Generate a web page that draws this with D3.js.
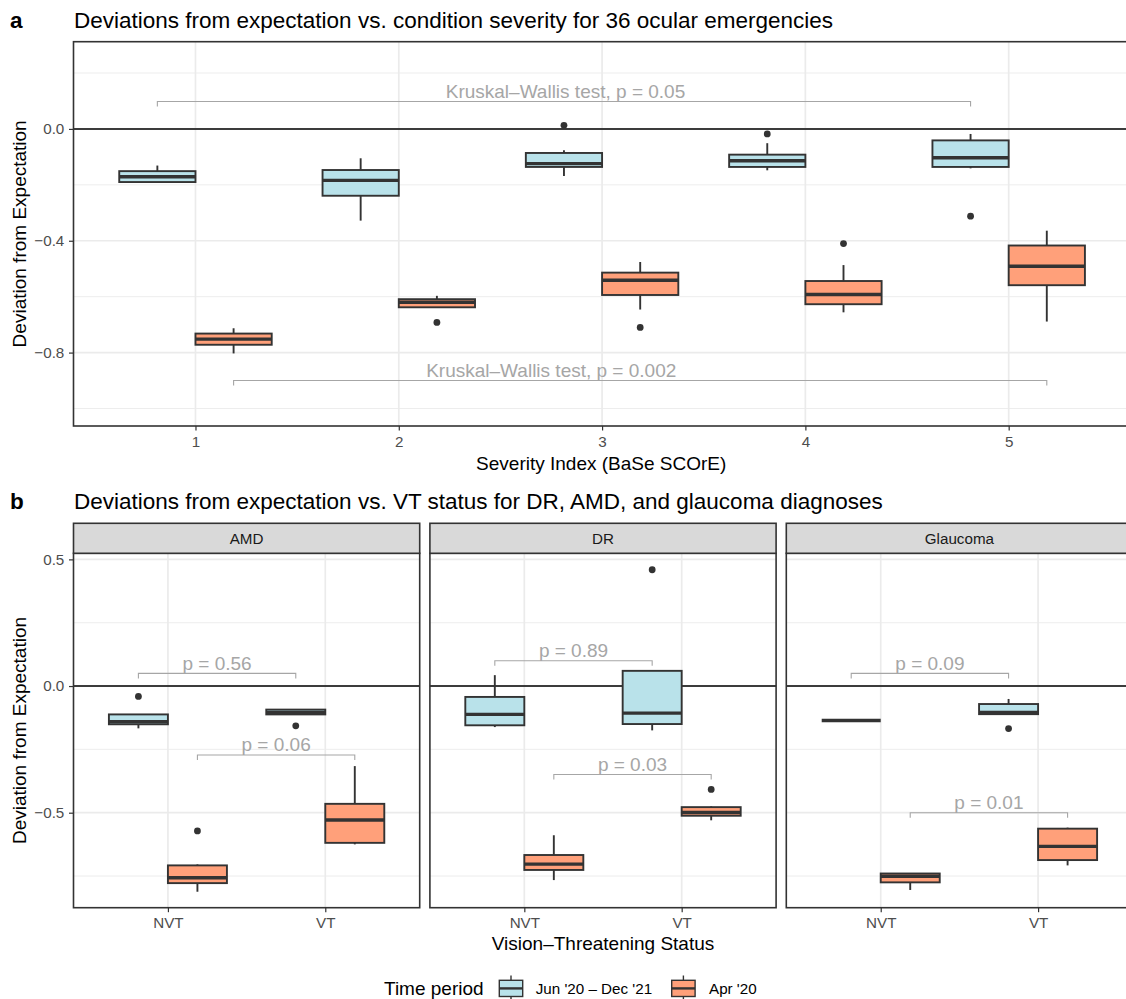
<!DOCTYPE html>
<html>
<head>
<meta charset="utf-8">
<script src="https://cdn.jsdelivr.net/npm/d3@7"></script>
<style>
  html, body { margin: 0; padding: 0; background: #fff; }
  svg { display: block; font-family: Helvetica, "Liberation Sans", Arial, sans-serif; }
</style>
</head>
<body>
<svg id="chart" width="1126" height="999"></svg>
<script>
// ---------------- DATA ----------------
const periods = ["Jun '20 \u2013 Dec '21", "Apr '20"];
const periodColors = ["#B9E2EA", "#FFA07A"];

// Panel a: severity index
const severityCats = [1, 2, 3, 4, 5];
// stats: [lower whisker, Q1, median, Q3, upper whisker]
const sevStatsRecent = [
  [-0.192, -0.190, -0.171, -0.151, -0.131],
  [-0.328, -0.239, -0.184, -0.147, -0.105],
  [-0.168, -0.136, -0.124, -0.086, -0.076],
  [-0.148, -0.136, -0.114, -0.092, -0.051],
  [-0.141, -0.136, -0.103, -0.041, -0.018]
];
const sevStatsApr = [
  [-0.803, -0.772, -0.752, -0.732, -0.713],
  [-0.640, -0.638, -0.620, -0.609, -0.597],
  [-0.646, -0.594, -0.541, -0.514, -0.476],
  [-0.656, -0.627, -0.592, -0.544, -0.487],
  [-0.689, -0.559, -0.491, -0.417, -0.364]
];
const sevOutliersRecent = [[], [], [0.013], [-0.018], [-0.312]];
const sevOutliersApr = [[], [-0.692], [-0.710], [-0.410], []];
const sevTestLabels = ["Kruskal\u2013Wallis test, p = 0.05", "Kruskal\u2013Wallis test, p = 0.002"];
const sevTestBracketY = [0.098, -0.900];
const sevTestLabelX = [2.82, 2.75];
const sevTicks = [0.0, -0.4, -0.8];
const sevTickLabels = ["0.0", "\u22120.4", "\u22120.8"];

// Panel b: VT status per diagnosis
const diagnoses = ["AMD", "DR", "Glaucoma"];
const vtCats = ["NVT", "VT"];
const vtStatsRecent = [
  [[-0.167, -0.151, -0.141, -0.112, -0.112], [-0.112, -0.112, -0.104, -0.093, -0.091]],
  [[-0.162, -0.155, -0.112, -0.043, 0.043], [-0.175, -0.150, -0.107, 0.060, 0.060]],
  [[-0.136, -0.136, -0.136, -0.136, -0.136], [-0.111, -0.111, -0.104, -0.071, -0.051]]
];
const vtStatsApr = [
  [[-0.812, -0.778, -0.757, -0.708, -0.704], [-0.625, -0.619, -0.529, -0.465, -0.316]],
  [[-0.766, -0.726, -0.703, -0.667, -0.589], [-0.530, -0.512, -0.499, -0.478, -0.475]],
  [[-0.805, -0.775, -0.751, -0.740, -0.740], [-0.708, -0.687, -0.633, -0.563, -0.559]]
];
const vtOutliersRecent = [[[-0.041], [-0.157]], [[], [0.459]], [[], [-0.168]]];
const vtOutliersApr = [[[-0.572], []], [[], [-0.408]], [[], []]];
const vtPvalRecent = ["p = 0.56", "p = 0.89", "p = 0.09"];
const vtPvalApr = ["p = 0.06", "p = 0.03", "p = 0.01"];
const vtBracketYRecent = [0.050, 0.100, 0.050];
const vtBracketYApr = [-0.272, -0.349, -0.500];
const vtTicks = [0.5, 0.0, -0.5];
const vtTickLabels = ["0.5", "0.0", "\u22120.5"];

// ---------------- STYLE ----------------
const boxStroke = "#333333";
const gridColor = "#EBEBEB";
const tickColor = "#4D4D4D";
const bracketColor = "#A6A6A6";
const dodge = 0.1875, boxHalf = 0.1875;
const FS_TITLE = 22.5, FS_AXIS = 19, FS_TICK = 15.2, FS_LABEL = 19;

const svg = d3.select("#chart");

function drawBox(g, x, y, cx, stats, outliers, fill) {
  const [lw, q1, med, q3, uw] = stats;
  const x0 = x(cx - boxHalf), x1 = x(cx + boxHalf), xm = x(cx);
  g.append("line").attr("x1", xm).attr("x2", xm).attr("y1", y(uw)).attr("y2", y(q3))
    .attr("stroke", boxStroke).attr("stroke-width", 1.9);
  g.append("line").attr("x1", xm).attr("x2", xm).attr("y1", y(q1)).attr("y2", y(lw))
    .attr("stroke", boxStroke).attr("stroke-width", 1.9);
  g.append("rect").attr("x", x0).attr("y", y(q3)).attr("width", x1 - x0)
    .attr("height", Math.max(0, y(q1) - y(q3)))
    .attr("fill", fill).attr("stroke", boxStroke).attr("stroke-width", 1.9);
  g.append("line").attr("x1", x0).attr("x2", x1).attr("y1", y(med)).attr("y2", y(med))
    .attr("stroke", boxStroke).attr("stroke-width", 3.4);
  outliers.forEach(v => {
    g.append("circle").attr("cx", xm).attr("cy", y(v)).attr("r", 3.4).attr("fill", boxStroke);
  });
}

function drawBracket(g, x, y, xa, xb, yv, label, labelX) {
  const tip = 5;
  const yy = y(yv);
  g.append("path")
    .attr("d", `M${x(xa)},${yy + tip}V${yy}H${x(xb)}V${yy + tip}`)
    .attr("fill", "none").attr("stroke", bracketColor).attr("stroke-width", 1.1);
  g.append("text").attr("x", x(labelX)).attr("y", yy - 3.5)
    .attr("text-anchor", "middle").attr("font-size", FS_LABEL).attr("fill", bracketColor)
    .text(label);
}

function drawGrid(g, x, y, xCats, yMajor, yMinor, left, right, top, bottom) {
  yMinor.forEach(v => g.append("line").attr("x1", left).attr("x2", right)
    .attr("y1", y(v)).attr("y2", y(v)).attr("stroke", gridColor).attr("stroke-width", 0.9));
  yMajor.forEach(v => g.append("line").attr("x1", left).attr("x2", right)
    .attr("y1", y(v)).attr("y2", y(v)).attr("stroke", gridColor).attr("stroke-width", 1.7));
  xCats.forEach(v => g.append("line").attr("x1", x(v)).attr("x2", x(v))
    .attr("y1", top).attr("y2", bottom).attr("stroke", gridColor).attr("stroke-width", 1.7));
}

function styleAxis(sel) {
  sel.select(".domain").remove();
  sel.selectAll(".tick line").attr("stroke", "#333333").attr("stroke-width", 1.2);
  sel.selectAll(".tick text").attr("fill", tickColor).attr("font-size", FS_TICK)
    .attr("font-family", "Helvetica, 'Liberation Sans', Arial, sans-serif");
}

// ---------------- PANEL A ----------------
{
  const L = 73.5, T = 41.7, B = 426, R = 73.5 + 5.2 * 203.3;
  const x = d3.scaleLinear().domain([0.4, 5.6]).range([L, R]);
  const y = d3.scaleLinear().domain([-1.0626, 0.312]).range([B, T]);
  const g = svg.append("g");

  svg.append("text").attr("x", 10).attr("y", 27.5).attr("font-size", FS_TITLE).attr("font-weight", "bold").text("a");
  svg.append("text").attr("x", 74).attr("y", 27.5).attr("font-size", FS_TITLE).attr("fill", "#000")
    .text("Deviations from expectation vs. condition severity for 36 ocular emergencies");

  drawGrid(g, x, y, severityCats, [0.0, -0.4, -0.8], [0.2, -0.2, -0.6, -1.0], L, R, T, B);

  g.append("line").attr("x1", L).attr("x2", R).attr("y1", y(0)).attr("y2", y(0))
    .attr("stroke", "#000").attr("stroke-width", 1.6);

  severityCats.forEach((c, i) => {
    drawBox(g, x, y, c - dodge, sevStatsRecent[i], sevOutliersRecent[i], periodColors[0]);
    drawBox(g, x, y, c + dodge, sevStatsApr[i], sevOutliersApr[i], periodColors[1]);
  });

  drawBracket(g, x, y, severityCats[0] - dodge, severityCats[4] - dodge, sevTestBracketY[0], sevTestLabels[0], sevTestLabelX[0]);
  drawBracket(g, x, y, severityCats[0] + dodge, severityCats[4] + dodge, sevTestBracketY[1], sevTestLabels[1], sevTestLabelX[1]);

  g.append("rect").attr("x", L).attr("y", T).attr("width", R - L).attr("height", B - T)
    .attr("fill", "none").attr("stroke", "#333333").attr("stroke-width", 1.6);

  const ay = g.append("g").attr("transform", `translate(${L},0)`)
    .call(d3.axisLeft(y).tickValues(sevTicks).tickSize(4.5).tickPadding(4.7)
      .tickFormat((d, i) => sevTickLabels[i]));
  styleAxis(ay);
  const ax = g.append("g").attr("transform", `translate(0,${B})`)
    .call(d3.axisBottom(x).tickValues(severityCats).tickSize(4.5).tickPadding(5.3).tickFormat(d3.format("d")));
  styleAxis(ax);

  svg.append("text").attr("x", (L + 1125) / 2 + 2).attr("y", 469.5).attr("text-anchor", "middle")
    .attr("font-size", FS_AXIS).text("Severity Index (BaSe SCOrE)");
  svg.append("text").attr("transform", `translate(25.7,${(T + B) / 2}) rotate(-90)`)
    .attr("text-anchor", "middle").attr("font-size", FS_AXIS).text("Deviation from Expectation");
}

// ---------------- PANEL B ----------------
{
  const T = 553.3, B = 907.7, stripT = 523.3;
  const panelW = 346.2, gap = 10.2, L0 = 73.5;
  const y = d3.scaleLinear().domain([-0.875, 0.524]).range([B, T]);

  svg.append("text").attr("x", 10).attr("y", 509).attr("font-size", FS_TITLE).attr("font-weight", "bold").text("b");
  svg.append("text").attr("x", 74).attr("y", 509).attr("font-size", FS_TITLE).attr("fill", "#000")
    .text("Deviations from expectation vs. VT status for DR, AMD, and glaucoma diagnoses");

  diagnoses.forEach((dName, f) => {
    const L = L0 + f * (panelW + gap), R = L + panelW;
    const x = d3.scaleLinear().domain([0.4, 2.6]).range([L, R]);
    const g = svg.append("g");

    drawGrid(g, x, y, [1, 2], [0.5, 0.0, -0.5], [0.25, -0.25, -0.75], L, R, T, B);
    g.append("line").attr("x1", L).attr("x2", R).attr("y1", y(0)).attr("y2", y(0))
      .attr("stroke", "#000").attr("stroke-width", 1.6);

    vtCats.forEach((c, i) => {
      drawBox(g, x, y, i + 1 - dodge, vtStatsRecent[f][i], vtOutliersRecent[f][i], periodColors[0]);
      drawBox(g, x, y, i + 1 + dodge, vtStatsApr[f][i], vtOutliersApr[f][i], periodColors[1]);
    });

    drawBracket(g, x, y, 1 - dodge, 2 - dodge, vtBracketYRecent[f], vtPvalRecent[f], 1.5 - dodge);
    drawBracket(g, x, y, 1 + dodge, 2 + dodge, vtBracketYApr[f], vtPvalApr[f], 1.5 + dodge);

    g.append("rect").attr("x", L).attr("y", T).attr("width", R - L).attr("height", B - T)
      .attr("fill", "none").attr("stroke", "#333333").attr("stroke-width", 1.6);
    g.append("rect").attr("x", L).attr("y", stripT).attr("width", R - L).attr("height", T - stripT)
      .attr("fill", "#D9D9D9").attr("stroke", "#333333").attr("stroke-width", 1.6);
    g.append("text").attr("x", (L + R) / 2).attr("y", (stripT + T) / 2 + 6)
      .attr("text-anchor", "middle").attr("font-size", FS_TICK).attr("fill", "#1A1A1A").text(dName);

    const ax = g.append("g").attr("transform", `translate(0,${B})`)
      .call(d3.axisBottom(x).tickValues([1, 2]).tickSize(4.5).tickPadding(5.3).tickFormat((d, i) => vtCats[i]));
    styleAxis(ax);

    if (f === 0) {
      const ay = g.append("g").attr("transform", `translate(${L},0)`)
        .call(d3.axisLeft(y).tickValues(vtTicks).tickSize(4.5).tickPadding(4.7)
          .tickFormat((d, i) => vtTickLabels[i]));
      styleAxis(ay);
    }
    if (f === 1) {
      svg.append("text").attr("x", (L + R) / 2).attr("y", 950).attr("text-anchor", "middle")
        .attr("font-size", FS_AXIS).text("Vision\u2013Threatening Status");
    }
  });

  svg.append("text").attr("transform", `translate(25.7,${(T + B) / 2}) rotate(-90)`)
    .attr("text-anchor", "middle").attr("font-size", FS_AXIS).text("Deviation from Expectation");
}

// ---------------- LEGEND ----------------
{
  const g = svg.append("g");
  g.append("text").attr("x", 384).attr("y", 995).attr("font-size", FS_AXIS).text("Time period");
  const keyX = [499.3, 671.7];
  const labX = [535.7, 709];
  periods.forEach((p, i) => {
    const kx = keyX[i], kw = 23.4, cx = kx + kw / 2;
    g.append("line").attr("x1", cx).attr("x2", cx).attr("y1", 975.5).attr("y2", 1001)
      .attr("stroke", boxStroke).attr("stroke-width", 1.4);
    g.append("rect").attr("x", kx).attr("y", 980.3).attr("width", kw).attr("height", 16.2)
      .attr("fill", periodColors[i]).attr("stroke", boxStroke).attr("stroke-width", 1.4);
    g.append("line").attr("x1", kx).attr("x2", kx + kw).attr("y1", 988.4).attr("y2", 988.4)
      .attr("stroke", boxStroke).attr("stroke-width", 2.4);
    g.append("text").attr("x", labX[i]).attr("y", 994).attr("font-size", FS_TICK).text(p);
  });
}
</script>
</body>
</html>
